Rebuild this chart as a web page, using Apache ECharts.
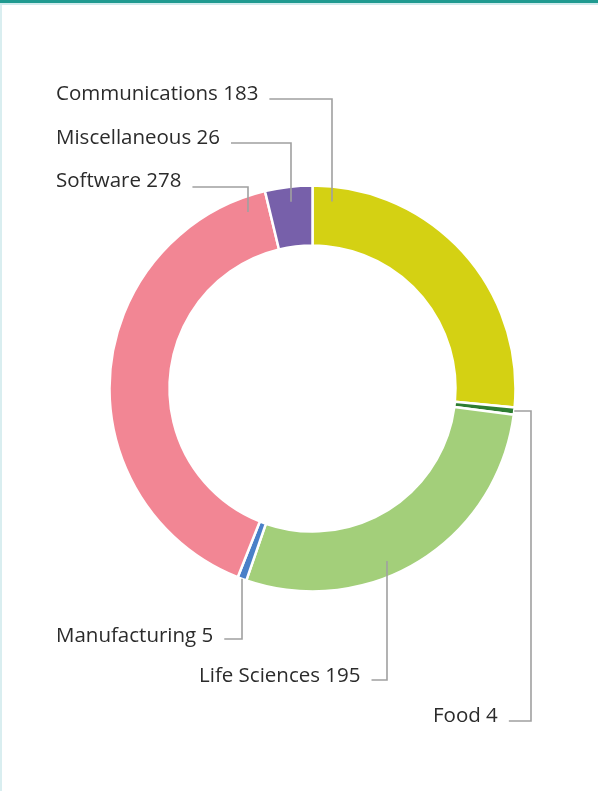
<!DOCTYPE html>
<html>
<head>
<meta charset="utf-8">
<script src="https://cdn.jsdelivr.net/npm/echarts@6/dist/echarts.min.js"></script>
<style>
html, body { margin: 0; padding: 0; background: #fff; }
#chart { width: 598px; height: 791px; }
</style>
</head>
<body>
<div id="chart"></div>
<script>
"use strict";

/* data */
var categories = ['Communications', 'Food', 'Life Sciences', 'Manufacturing', 'Software', 'Miscellaneous'];
var values = [183, 4, 195, 5, 278, 26];
var colors = ['#d4d113', '#2e7d32', '#a3cf7a', '#4a80c8', '#f28694', '#7760aa'];

/* label placement (pixels) */
var cx = 312.5, cy = 388.5, rOuter = 203, rInner = 143;
var labelSpots = [
	{ x: 56, y: 94, lineY: 99, elbowX: 332, thin: false },
	{ x: 433, y: 716, lineY: 721, elbowX: 531, thin: true },
	{ x: 199, y: 676, lineY: 680, elbowX: 387, thin: false },
	{ x: 56, y: 636, lineY: 639, elbowX: null, thin: true },
	{ x: 56, y: 181, lineY: 187, elbowX: 248, thin: false },
	{ x: 56, y: 138, lineY: 143, elbowX: 291, thin: false }
];

var total = values.reduce(function (a, b) { return a + b; }, 0);
function midAngle(i) {
	var before = 0;
	for (var k = 0; k < i; k++) before += values[k];
	return (before + values[i] / 2) / total * Math.PI * 2;
}

var chart = echarts.init(document.getElementById('chart'));

// sectors are drawn by the first series, labels and leader lines by a
// transparent copy on top so the lines run over the ring
var option = {
	backgroundColor: '#ffffff',
	animation: false,
	graphic: [
		{ type: 'rect', shape: { x: 0, y: 0, width: 598, height: 3 }, style: { fill: '#1f9a90' } },
		{ type: 'rect', shape: { x: 0, y: 3, width: 598, height: 2 }, style: { fill: '#cfeaec' } },
		{ type: 'rect', shape: { x: 0, y: 5, width: 2, height: 786 }, style: { fill: '#d9eef0' } }
	],
	series: [{
		type: 'pie',
		z: 2,
		center: [cx, cy],
		radius: [rInner, rOuter],
		startAngle: 90,
		clockwise: true,
		data: categories.map(function (name, i) {
			return { name: name, value: values[i], itemStyle: { color: colors[i] } };
		}),
		itemStyle: {
			borderColor: '#ffffff',
			borderWidth: 2.5
		},
		label: { show: false },
		labelLine: { show: false }
	}, {
		type: 'pie',
		z: 3,
		silent: true,
		center: [cx, cy],
		radius: [rInner, rOuter],
		startAngle: 90,
		clockwise: true,
		avoidLabelOverlap: false,
		data: categories.map(function (name, i) {
			return { name: name, value: values[i] };
		}),
		itemStyle: {
			color: 'rgba(0,0,0,0)',
			borderWidth: 0
		},
		label: {
			show: true,
			position: 'outside',
			formatter: '{b} {c}',
			fontFamily: 'Open Sans',
			fontSize: 20.5,
			color: '#2b2b2b'
		},
		labelLine: {
			show: true,
			smooth: false,
			lineStyle: { color: '#a0a0a0', width: 1.6 }
		},
		labelLayout: function (params) {
			var i = params.dataIndex;
			var s = labelSpots[i];
			var w = params.labelRect.width;
			var startX = s.x + w + 11;
			var ax, ay;
			if (s.thin) {
				var a = midAngle(i);
				ax = cx + rOuter * Math.sin(a);
				ay = cy - rOuter * Math.cos(a);
			} else {
				var r = rOuter - 15;
				ax = s.elbowX;
				var dy = Math.sqrt(r * r - (ax - cx) * (ax - cx));
				ay = Math.cos(midAngle(i)) > 0 ? cy - dy : cy + dy;
			}
			var pts;
			if (s.elbowX === null) {
				pts = [[ax, ay], [ax, s.lineY], [startX, s.lineY]];
			} else if (s.thin) {
				pts = [[ax, ay], [s.elbowX, ay], [s.elbowX, s.lineY], [startX, s.lineY]];
			} else {
				pts = [[ax, ay], [ax, s.lineY], [startX, s.lineY]];
			}
			return {
				x: s.x,
				y: s.y,
				align: 'left',
				verticalAlign: 'middle',
				labelLinePoints: pts
			};
		}
	}]
};

chart.setOption(option);
</script>
</body>
</html>
